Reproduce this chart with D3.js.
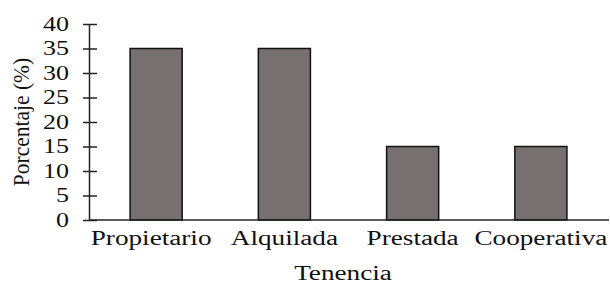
<!DOCTYPE html>
<html>
<head>
<meta charset="utf-8">
<script src="https://cdn.jsdelivr.net/npm/d3@7"></script>
<style>
  body { margin: 0; background: #fff; }
  text { font-family: "Liberation Serif", "Times New Roman", serif; fill: #111; }
</style>
</head>
<body>
<svg class="chart" width="610" height="284"></svg>
<script>
// data
var categories = ['Propietario', 'Alquilada', 'Prestada', 'Cooperativa'];
var values = [35, 35, 15, 15];
var yTicks = [0, 5, 10, 15, 20, 25, 30, 35, 40];
var xTitle = 'Tenencia';
var yTitle = 'Porcentaje (%)';

var width = 610, height = 284;
var margin = ({ top: 24, right: 1, bottom: 64, left: 89 });
var stretch = 1.36; // text in the picture is wider than normal

var svg = d3.select('.chart');

var xScale = d3.scaleBand()
  .domain(categories)
  .range([92, 605])
  .paddingInner(0.594)
  .paddingOuter(0.297);

var yScale = d3.scaleLinear()
  .domain([0, 40])
  .range([height - margin.bottom, margin.top]);

// bars
svg.append('g')
  .attr('class', 'bars')
  .selectAll('rect')
  .data(values)
  .join('rect')
    .attr('x', (d, i) => xScale(categories[i]))
    .attr('y', d => yScale(d))
    .attr('width', xScale.bandwidth())
    .attr('height', d => yScale(0) - yScale(d))
    .style('fill', '#767071')
    .style('stroke', '#111')
    .style('stroke-width', 1.5);

// y axis, ticks cross the line
var yAxis = d3.axisLeft(yScale)
  .tickValues(yTicks)
  .tickSizeInner(6)
  .tickSizeOuter(0)
  .tickPadding(20);

var gy = svg.append('g')
  .attr('class', 'y-axis')
  .attr('transform', `translate(${margin.left},0)`)
  .call(yAxis);

gy.select('.domain').attr('stroke', '#222').attr('stroke-width', 1.5);
gy.selectAll('.tick line').attr('x1', 8).attr('stroke', '#222').attr('stroke-width', 1.5);
gy.selectAll('.tick text')
  .attr('font-size', 20)
  .attr('x', -20 / 1.3)
  .attr('transform', 'scale(1.3,1)')
  .attr('fill', '#111');

// x axis line
svg.append('line')
  .attr('x1', margin.left)
  .attr('x2', width - margin.right)
  .attr('y1', yScale(0))
  .attr('y2', yScale(0))
  .attr('stroke', '#222')
  .attr('stroke-width', 1.5);

// category labels
svg.append('g')
  .selectAll('text')
  .data(categories)
  .join('text')
    .attr('text-anchor', 'middle')
    .attr('font-size', 20)
    .attr('transform', (d, i) => `translate(${xScale(d) + xScale.bandwidth() / 2 - (i === 0 ? 5 : 0)},245) scale(${stretch},1)`)
    .text(d => d);

// axis titles
svg.append('text')
  .attr('text-anchor', 'middle')
  .attr('font-size', 20)
  .attr('transform', `translate(343,280) scale(${stretch},1)`)
  .text(xTitle);

svg.append('text')
  .attr('text-anchor', 'middle')
  .attr('font-size', 21.5)
  .attr('transform', `translate(29,122) scale(1.1,1) rotate(-90)`)
  .text(yTitle);
</script>
</body>
</html>
